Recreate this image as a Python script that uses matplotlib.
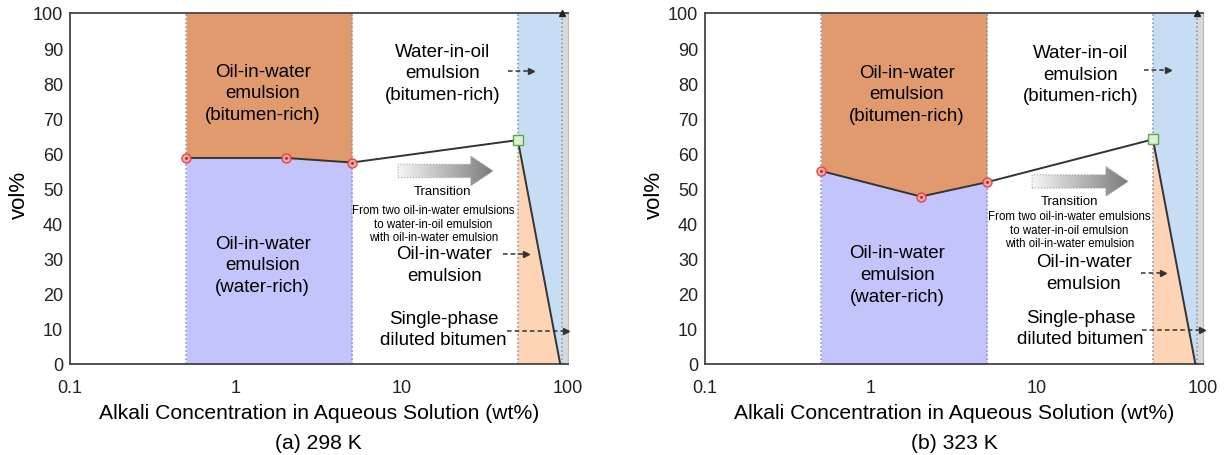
import matplotlib.pyplot as plt
import numpy as np
from matplotlib.patches import Polygon

plt.rcParams['font.family'] = ['Liberation Sans', 'DejaVu Sans']

# boundary data (alkali wt%, vol%)
conc = [0.5, 2, 5]
vol_298 = [58.7, 58.7, 57.4]
vol_323 = [55.0, 47.7, 51.8]
trans_conc = 50
trans_298 = 63.8
trans_323 = 64.0
end_conc = 90      # where the line reaches 0 vol%
single_conc = 92   # single-phase boundary
captions = ['(a) 298 K', '(b) 323 K']

c_orange = '#E09A6E'
c_lav = '#C4C4FC'
c_blue = '#C6DDF4'
c_peach = '#FDD5B6'
c_gray = '#D8D8D8'
c_dash = '#7E8DAE'
c_line = '#333333'


def panel(ax, vol, tvol, caption, lab):
    # filled regions
    ax.fill_between(conc, vol, 100, color=c_orange, lw=0)
    ax.fill_between(conc, 0, vol, color=c_lav, lw=0)
    ax.add_patch(Polygon([(trans_conc, tvol), (end_conc, 0), (single_conc, 0),
                          (single_conc, 100), (trans_conc, 100)], color=c_blue, lw=0))
    ax.add_patch(Polygon([(trans_conc, 0), (trans_conc, tvol), (end_conc, 0)],
                         color=c_peach, lw=0))
    ax.axvspan(single_conc, 100, color=c_gray, lw=0)
    for xv in [conc[0], conc[-1], trans_conc, single_conc]:
        ax.axvline(xv, color=c_dash, ls=':', lw=1.1)

    # boundary line
    ax.plot(conc + [trans_conc, end_conc], vol + [tvol, 0], color=c_line, lw=1.4, zorder=4)
    ax.plot(conc, vol, 'o', ms=6.5, mfc='#F3A6A6', mec='#E23A3A', mew=1.0, zorder=5, alpha=0.9)
    ax.plot(conc, vol, '.', ms=2, color='#C02020', zorder=6)
    ax.plot(trans_conc, tvol, 's', ms=6.5, mfc='#DDF0CF', mec='#5FA84A', mew=1.0, zorder=5)
    ax.plot(single_conc, 100, '^', ms=5, color='#222222', zorder=6, clip_on=False)

    # region labels
    big = 13.5
    ls = 1.35
    ax.text(lab['owb'][0], lab['owb'][1], 'Oil-in-water\nemulsion\n(bitumen-rich)',
            ha='center', va='center', fontsize=big, linespacing=ls)
    ax.text(lab['oww'][0], lab['oww'][1], 'Oil-in-water\nemulsion\n(water-rich)',
            ha='center', va='center', fontsize=big, linespacing=ls)
    ax.text(lab['wo'][0], lab['wo'][1], 'Water-in-oil\nemulsion\n(bitumen-rich)',
            ha='center', va='center', fontsize=big, linespacing=ls)
    ax.text(lab['ow'][0], lab['ow'][1], 'Oil-in-water\nemulsion',
            ha='center', va='center', fontsize=big, linespacing=ls)
    ax.text(lab['sp'][0], lab['sp'][1], 'Single-phase\ndiluted bitumen',
            ha='center', va='center', fontsize=big, linespacing=ls)
    ax.text(lab['tr'][0], lab['tr'][1], 'Transition', ha='center', va='center',
            fontsize=9.5)
    ax.text(lab['ft'][0], lab['ft'][1],
            'From two oil-in-water emulsions\nto water-in-oil emulsion\nwith oil-in-water emulsion',
            ha='center', va='center', fontsize=8.3, linespacing=1.2)

    # small dashed pointers
    for x0, x1, y in lab['arrows']:
        ax.plot([x0, x1], [y, y], ls=(0, (3, 2)), color=c_line, lw=1.1, zorder=6)
        ax.plot(x1, y, marker='>', ms=4, color=c_line, zorder=6, clip_on=False)

    # gradient transition arrow (axes coords)
    x0, x1, yc = lab['garrow']
    hb, hh, hl = 0.038, 0.085, 0.045
    pts = [(x0, yc - hb / 2), (x1 - hl, yc - hb / 2), (x1 - hl, yc - hh / 2), (x1, yc),
           (x1 - hl, yc + hh / 2), (x1 - hl, yc + hb / 2), (x0, yc + hb / 2)]
    arr = Polygon(pts, closed=True, transform=ax.transAxes, fc='none',
                  ec='#A8A8A8', lw=0.8, ls=':', zorder=5)
    ax.add_patch(arr)
    grad = np.linspace(0, 1, 256).reshape(1, -1)
    im = ax.imshow(grad, extent=[x0, x1, yc - hh / 2, yc + hh / 2], transform=ax.transAxes,
                   cmap=plt.matplotlib.colors.LinearSegmentedColormap.from_list(
                       'g', ['#F6F6F6', '#7A7A7A']), aspect='auto', zorder=4)
    im.set_clip_path(arr)

    ax.set_xscale('log')
    ax.set_xlim(0.1, 100)
    ax.set_ylim(0, 100)
    ax.set_xticks([0.1, 1, 10, 100])
    ax.set_xticklabels(['0.1', '1', '10', '100'])
    ax.minorticks_off()
    ax.set_yticks(np.arange(0, 101, 10))
    ax.tick_params(length=0, labelsize=13, colors='#222222')
    ax.tick_params(axis='x', pad=11)
    ax.tick_params(axis='y', pad=5)
    for s in ['left', 'bottom', 'top']:
        ax.spines[s].set_color('#444444')
        ax.spines[s].set_linewidth(1.3)
    ax.spines['right'].set_color('#BBBBBB')
    ax.text(0.5, -0.137, 'Alkali Concentration in Aqueous Solution (wt%)',
            transform=ax.transAxes, ha='center', va='center', fontsize=15.2)
    ax.text(0.5, -0.223, caption, transform=ax.transAxes, ha='center', va='center',
            fontsize=15.2)
    ax.text(-0.102, 0.484, 'vol%', transform=ax.transAxes, ha='center', va='center',
            rotation=90, fontsize=16)


fig = plt.figure(figsize=(12.29, 4.56), dpi=100)
ax1 = fig.add_axes([0.057, 0.1996, 0.405, 0.7697])
ax2 = fig.add_axes([0.5736, 0.1996, 0.4052, 0.7697])

lab_298 = dict(owb=(1.45, 77.3), oww=(1.45, 28.3), wo=(17.6, 83), ow=(18, 28.3),
               sp=(17.8, 10), tr=(17.6, 49.3), ft=(15.5, 40),
               arrows=[(43.7, 60, 83.6), (40.5, 56, 31.2), (43, 98, 9.5)],
               garrow=(0.659, 0.850, 0.55))
lab_323 = dict(owb=(1.64, 77), oww=(1.44, 25.5), wo=(18.3, 82.5), ow=(19.2, 26),
               sp=(18.3, 10.2), tr=(15.7, 46.5), ft=(15.7, 38.3),
               arrows=[(44, 62, 83.8), (42.5, 57.6, 25.8), (43, 99, 9.6)],
               garrow=(0.657, 0.850, 0.52))

panel(ax1, vol_298, trans_298, captions[0], lab_298)
panel(ax2, vol_323, trans_323, captions[1], lab_323)

fig.savefig('out.png', dpi=100)
